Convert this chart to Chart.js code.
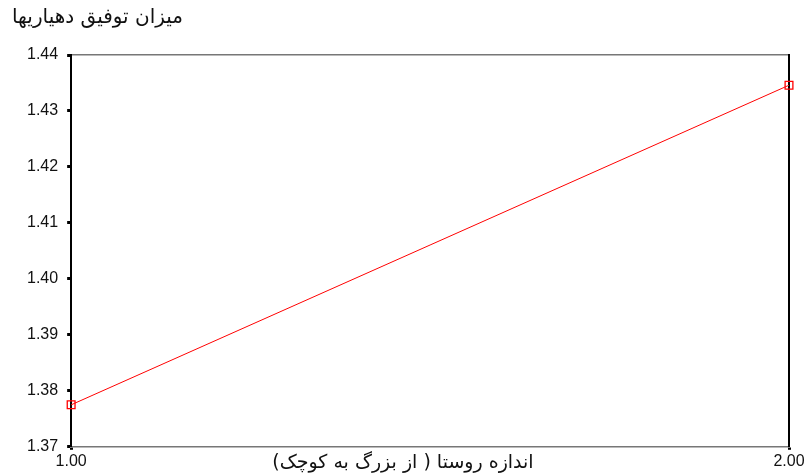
<!DOCTYPE html>
<html>
<head>
<meta charset="utf-8">
<script src="https://cdn.jsdelivr.net/npm/chart.js@4.4.1/dist/chart.umd.min.js"></script>
<style>
  body { margin: 0; background: #fff; }
  #wrap { width: 807px; height: 473px; }
</style>
</head>
<body>
<div id="wrap"><canvas id="lineChart" width="807" height="473"></canvas></div>
<script>
  // values
  var villageSize = [1, 2];
  var successMean = [1.3775, 1.4346];
  var yTicks = [1.37, 1.38, 1.39, 1.40, 1.41, 1.42, 1.43, 1.44];
  var xTicks = [1, 2];

  var yTitle = 'میزان توفیق دهیاریها';
  var xTitle = 'اندازه روستا ( از بزرگ به کوچک)';

  var fontFamily = '"Liberation Sans", Arial, "DejaVu Sans", sans-serif';
  var faFont = 'Tahoma, "DejaVu Sans", sans-serif';

  // titles sit where SPSS put them: y title top left, x title on the tick row
  var titlesPlugin = {
    id: 'titles',
    afterDraw: function(chart) {
      var ctx = chart.ctx;
      var area = chart.chartArea;
      ctx.save();
      ctx.fillStyle = '#111';
      ctx.direction = 'rtl';
      ctx.textBaseline = 'middle';
      ctx.font = '20px ' + faFont;
      ctx.textAlign = 'left';
      ctx.fillText(yTitle, 12, 18);
      ctx.font = '19px ' + faFont;
      ctx.textAlign = 'center';
      ctx.fillText(xTitle, 403, area.bottom + 16);
      ctx.restore();
    }
  };

  var points = villageSize.map(function(v, i) { return { x: v, y: successMean[i] }; });

  var lineChart = new Chart(document.getElementById('lineChart'), {
    type: 'line',
    data: {
      datasets: [{
        data: points,
        borderColor: '#ff0000',
        borderWidth: 1,
        pointStyle: 'rect',
        pointRadius: 5.5,
        pointBorderColor: '#ff0000',
        pointBackgroundColor: 'rgba(255,255,255,0)',
        pointBorderWidth: 1.3,
        tension: 0,
        clip: false
      }]
    },
    options: {
      responsive: false,
      animation: false,
      layout: { padding: { top: 47, right: 10, bottom: 0, left: 18 } },
      plugins: {
        legend: { display: false },
        tooltip: { enabled: false }
      },
      scales: {
        x: {
          type: 'linear',
          min: xTicks[0],
          max: xTicks[xTicks.length - 1],
          afterBuildTicks: function(axis) { axis.ticks = xTicks.map(function(v) { return { value: v }; }); },
          ticks: {
            color: '#111',
            font: { family: fontFamily, size: 16 },
            padding: 2,
            maxRotation: 0,
            callback: function(v) { return Number(v).toFixed(2); }
          },
          grid: { drawOnChartArea: false, color: '#000', tickLength: 3, tickWidth: 3 },
          border: { color: '#777', width: 1.5 }
        },
        xTop: {
          type: 'linear',
          position: 'top',
          min: xTicks[0],
          max: xTicks[xTicks.length - 1],
          ticks: { display: false },
          grid: { display: false },
          border: { color: '#777', width: 1.5 }
        },
        y: {
          min: yTicks[0],
          max: yTicks[yTicks.length - 1],
          afterBuildTicks: function(axis) { axis.ticks = yTicks.map(function(v) { return { value: v }; }); },
          ticks: {
            color: '#111',
            font: { family: fontFamily, size: 16 },
            padding: 9,
            callback: function(v) { return Number(v).toFixed(2); }
          },
          grid: { drawOnChartArea: false, color: '#000', tickLength: 4, tickWidth: 3 },
          border: { color: '#000', width: 2 }
        },
        yRight: {
          position: 'right',
          min: yTicks[0],
          max: yTicks[yTicks.length - 1],
          ticks: { display: false },
          grid: { display: false },
          border: { color: '#000', width: 2 }
        }
      }
    },
    plugins: [titlesPlugin]
  });
</script>
</body>
</html>
